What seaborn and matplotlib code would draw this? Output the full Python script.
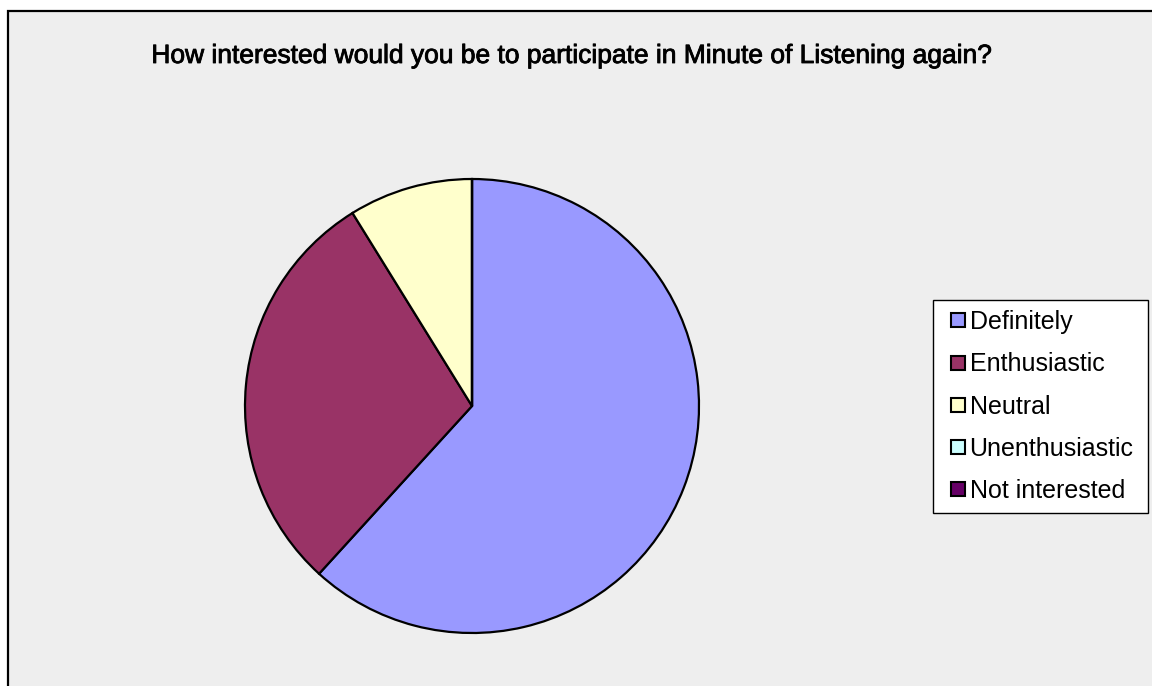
import matplotlib
matplotlib.use("Agg")
import matplotlib.pyplot as plt
from matplotlib.patches import Rectangle
from matplotlib.lines import Line2D
import matplotlib.patheffects as pe
import seaborn as sns

sns.set_style("white")
plt.rcParams["font.family"] = ["Liberation Sans", "DejaVu Sans"]

categories = ["Definitely", "Enthusiastic", "Neutral", "Unenthusiastic", "Not interested"]
responses = [21, 10, 3, 0, 0]
colors = ["#9999FF", "#993366", "#FFFFCC", "#CCFFFF", "#660066"]
title = "How interested would you be to participate in Minute of Listening again?"

W, H = 1152, 686
fig = plt.figure(figsize=(W / 100, H / 100), dpi=100)
fig.patch.set_facecolor("white")

# chart area frame
fig.patches.append(Rectangle((8 / W, -0.02), 1.05, (H - 11) / H + 0.02,
                             transform=fig.transFigure, facecolor="#EEEEEE",
                             edgecolor="black", linewidth=1.6, zorder=-10))

cx, cy, r = 472, 406, 227
ax = fig.add_axes([(cx - r) / W, (H - cy - r) / H, 2 * r / W, 2 * r / H])
ax.pie(responses, colors=colors, startangle=90, counterclock=False,
       wedgeprops=dict(edgecolor="black", linewidth=1.6))
ax.set_xlim(-1, 1)
ax.set_ylim(-1, 1)
ax.set_aspect("equal")
ax.axis("off")

fig.text(572 / W, 1 - 56 / H, title, ha="center", va="center",
         fontsize=19, color="black",
         path_effects=[pe.withStroke(linewidth=0.6, foreground="black")])

handles = [Line2D([], [], linestyle="none", marker="s", markersize=10,
                  markerfacecolor=c, markeredgecolor="black",
                  markeredgewidth=1.5) for c in colors]
leg = fig.legend(handles, categories, loc="upper left",
                 bbox_to_anchor=(933 / W, 1 - 513 / H, 215 / W, 213 / H),
                 mode="expand",
                 frameon=True, fancybox=False, fontsize=18, labelcolor="black",
                 handlelength=1.2, handleheight=0.7, handletextpad=-0.14,
                 labelspacing=0.73, borderpad=0.4, borderaxespad=0,
                 framealpha=1)
leg.get_frame().set_edgecolor("black")
leg.get_frame().set_linewidth(1.0)
leg.get_frame().set_facecolor("white")

fig.savefig("out.png", dpi=100)
